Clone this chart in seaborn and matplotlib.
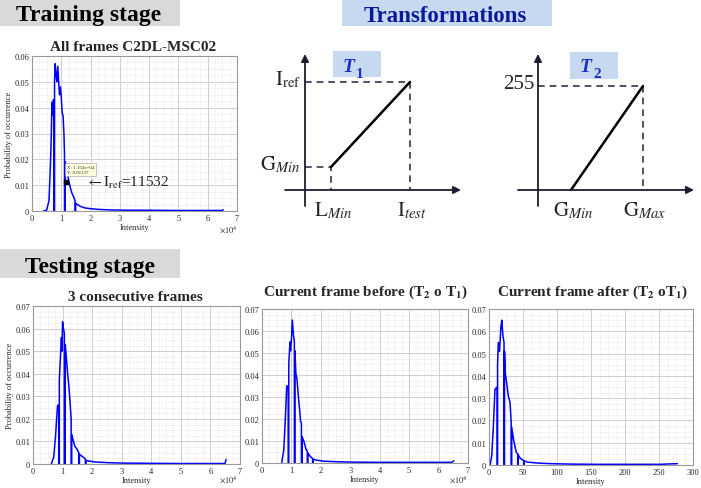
import matplotlib.pyplot as plt
import seaborn as sns
from matplotlib.patches import Rectangle
from matplotlib.ticker import MultipleLocator, FuncFormatter

# Histogramme lest av bildet (intensitet i enheter av 1e4, sannsynlighet)
train_intensity = [0.40, 0.50, 0.58, 0.63, 0.66, 0.68, 0.70, 0.72, 0.75, 0.75, 0.77, 0.77, 0.79,
                   0.82, 0.85, 0.88, 0.91, 0.94, 0.97, 1.00, 1.03, 1.06, 1.09, 1.11, 1.11, 1.13, 1.13,
                   1.16, 1.20, 1.25, 1.31, 1.36, 1.42, 1.47, 1.47, 1.49, 1.49, 1.55, 1.65, 1.80, 2.00,
                   2.30, 2.70, 3.20, 4.00, 5.00, 6.00, 6.50, 6.53]
train_prob = [0.0, 0.0003, 0.004, 0.018, 0.030, 0.042, 0.037, 0.043, 0.043, 0.0, 0.0, 0.050, 0.057,
              0.053, 0.050, 0.056, 0.050, 0.045, 0.048, 0.044, 0.038, 0.037, 0.030, 0.022, 0.0, 0.0, 0.019,
              0.018, 0.015, 0.012, 0.009, 0.007, 0.0055, 0.004, 0.0, 0.0, 0.003, 0.0025, 0.0018, 0.0012, 0.0009,
              0.0006, 0.0004, 0.0003, 0.0003, 0.0002, 0.0002, 0.0002, 0.0005]

test_intensity = [0.62, 0.70, 0.76, 0.80, 0.83, 0.87, 0.87, 0.89, 0.89, 0.93, 0.96, 0.98, 1.00, 1.03,
                  1.06, 1.06, 1.09, 1.09, 1.13, 1.17, 1.21, 1.25, 1.29, 1.29, 1.31, 1.31, 1.35, 1.41, 1.49,
                  1.55, 1.55, 1.57, 1.57, 1.65, 1.75, 1.77, 1.77, 1.79, 1.79, 1.90, 2.10, 2.50, 3.00, 4.00,
                  5.00, 6.00, 6.49, 6.53]
test_prob = [0.0, 0.003, 0.012, 0.020, 0.026, 0.026, 0.0, 0.0, 0.037, 0.048, 0.056, 0.050, 0.063, 0.060,
             0.058, 0.0, 0.0, 0.053, 0.047, 0.040, 0.035, 0.028, 0.020, 0.0, 0.0, 0.013, 0.011, 0.008,
             0.0065, 0.005, 0.0, 0.0, 0.0043, 0.0035, 0.0025, 0.0022, 0.0, 0.0, 0.0016, 0.0013, 0.0009,
             0.0006, 0.0004, 0.0003, 0.0002, 0.0002, 0.0002, 0.0020]

before_intensity = [0.67, 0.74, 0.80, 0.84, 0.89, 0.89, 0.91, 0.91, 0.95, 0.97, 1.00, 1.03, 1.07, 1.10,
                    1.10, 1.12, 1.12, 1.15, 1.19, 1.23, 1.28, 1.31, 1.34, 1.34, 1.36, 1.36, 1.42, 1.50,
                    1.54, 1.54, 1.56, 1.56, 1.64, 1.72, 1.72, 1.74, 1.74, 1.85, 2.10, 2.50, 3.00, 4.00,
                    5.00, 6.00, 6.45, 6.52]
before_prob = [0.0, 0.006, 0.022, 0.035, 0.035, 0.0, 0.0, 0.045, 0.055, 0.051, 0.056, 0.065, 0.058, 0.055,
               0.0, 0.0, 0.051, 0.041, 0.038, 0.031, 0.024, 0.019, 0.018, 0.0, 0.0, 0.012, 0.010, 0.006,
               0.0055, 0.0, 0.0, 0.0045, 0.003, 0.002, 0.0, 0.0, 0.0017, 0.0013, 0.0008, 0.0006, 0.0004,
               0.0003, 0.0003, 0.0003, 0.0003, 0.0010]

after_intensity = [1.5, 4.0, 6.5, 8.8, 12.0, 12.0, 12.6, 12.6, 13.7, 15.5, 17.5, 18.8, 20.5, 22.1, 22.1,
                   22.8, 22.8, 24.0, 25.5, 28.4, 31.0, 32.6, 32.6, 33.4, 33.4, 36.3, 40.2, 42.2, 42.2,
                   42.9, 42.9, 46.0, 51.0, 51.0, 51.8, 51.8, 57.0, 70.0, 90.0, 120.0, 160.0, 200.0, 250.0,
                   277.0]
after_prob = [0.0, 0.004, 0.018, 0.034, 0.035, 0.0, 0.0, 0.045, 0.055, 0.051, 0.062, 0.065, 0.058, 0.055,
              0.0, 0.0, 0.051, 0.041, 0.038, 0.031, 0.028, 0.019, 0.0, 0.0, 0.017, 0.011, 0.0056, 0.005,
              0.0, 0.0, 0.0046, 0.003, 0.002, 0.0, 0.0, 0.0018, 0.0013, 0.0009, 0.0006, 0.0004, 0.0003,
              0.0003, 0.0003, 0.0006]

iref_tip = (1.153, 0.01137)
iref_text = "X: 1.153e+04\nY: 0.01137"

# Skisser av transformasjonene (skjematiske enheter, origo i aksekrysset)
t1_in = [26, 105]     # L_Min, I_test
t1_out = [23, 108]    # G_Min, I_ref
t2_in = [33, 105]     # G_Min, G_Max
t2_out = [0, 104]     # 0, 255
axis_x = [-20, 156]
axis_y = [-16, 136]

W, H = 701, 489
BLUE = "#0000ff"


def rect(x0, y0, x1, y1):  # piksler (fra toppen) -> figurbrok
    return [x0 / W, 1 - y1 / H, (x1 - x0) / W, (y1 - y0) / H]


def header(box, text, face, color, cx, base, size):
    fig.add_artist(Rectangle((box[0] / W, 1 - box[3] / H), (box[2] - box[0]) / W, (box[3] - box[1]) / H,
                             transform=fig.transFigure, facecolor=face, edgecolor="none"))
    fig.text(cx / W, 1 - base / H, text, ha="center", va="baseline", fontsize=size,
             fontweight="bold", color=color)


def hist_panel(box, xs, ys, xmax, xstep, ymax, ylabel, sci_pos):
    ax = fig.add_axes(rect(*box))
    sns.lineplot(x=xs, y=ys, sort=False, estimator=None, color=BLUE, linewidth=1.1, ax=ax)
    ax.set_xlim(0, xmax)
    ax.set_ylim(0, ymax)
    ax.xaxis.set_major_locator(MultipleLocator(xstep))
    ax.xaxis.set_minor_locator(MultipleLocator(xstep / 4))
    ax.yaxis.set_major_locator(MultipleLocator(0.01))
    ax.yaxis.set_minor_locator(MultipleLocator(0.0025))
    ax.yaxis.set_major_formatter(FuncFormatter(lambda v, p: f"{v:g}"))
    ax.xaxis.set_major_formatter(FuncFormatter(lambda v, p: f"{v:g}"))
    ax.grid(True, which="major", color="#cfcfcf", linewidth=0.7)
    ax.grid(True, which="minor", color="#d6d6d6", linewidth=0.5, linestyle=":")
    ax.tick_params(which="both", direction="in", length=2, labelsize=6, pad=2, color="#888888")
    ax.tick_params(which="minor", length=0)
    for s in ax.spines.values():
        s.set_color("#999999")
        s.set_linewidth(0.8)
    ax.set_xlabel("Intensity", fontsize=6, labelpad=1)
    ax.set_ylabel("Probability of occurrence" if ylabel else "", fontsize=6, labelpad=1)
    if sci_pos is not None:
        fig.text(sci_pos[0] / W, 1 - sci_pos[1] / H, r"$\times10^4$", ha="right", va="center", fontsize=6)
    return ax


def sketch(box, xin, xout, labels_x, labels_y, tag, tag_box):
    ax = fig.add_axes(rect(*box))
    ax.set_xlim(-25, 165)
    ax.set_ylim(-37, 143)
    ax.axis("off")
    arrow = dict(arrowstyle="-|>", color="#1c1c30", lw=1.3, mutation_scale=11, shrinkA=0, shrinkB=0)
    ax.annotate("", xy=(axis_x[1], 0), xytext=(axis_x[0], 0), arrowprops=arrow)
    ax.annotate("", xy=(0, axis_y[1]), xytext=(0, axis_y[0]), arrowprops=arrow)
    dash = dict(color="#33334a", lw=1.2, linestyle=(0, (4, 3)))
    ax.plot([0, xin[1], xin[1]], [xout[1], xout[1], 0], **dash)
    if xout[0] > 0:
        ax.plot([0, xin[0], xin[0]], [xout[0], xout[0], 0], **dash)
    sns.lineplot(x=xin, y=xout, color="black", linewidth=1.8, ax=ax)
    for lx, txt in zip(xin, labels_x):
        ax.text(lx + 2, -25, txt, ha="center", va="baseline", fontsize=15)
    for ly, txt in zip(xout, labels_y):
        if txt:
            ax.text(-4, ly - 2, txt, ha="right", va="baseline", fontsize=15)
    ax.add_patch(Rectangle((tag_box[0], tag_box[1]), tag_box[2], tag_box[3], facecolor="#c6d9f1",
                           edgecolor="none", clip_on=False))
    ax.text(tag_box[0] + 16, 119, "T", ha="center", va="baseline", fontsize=14, fontweight="bold",
            fontstyle="italic", color="#1a2fc8")
    ax.text(tag_box[0] + 23, 113, tag, ha="left", va="baseline", fontsize=11, fontweight="bold",
            color="#1a2fc8")


sns.set_style("white")
plt.rcParams["font.family"] = ["Liberation Serif", "DejaVu Serif"]
plt.rcParams["mathtext.fontset"] = "stix"

fig = plt.figure(figsize=(7.01, 4.89), dpi=100)

header((0, 0, 180, 27), "Training stage", "#d9d9d9", "black", 89, 21, 17)
header((342, 0, 552, 27), "Transformations", "#c6d9f1", "#0a1a9a", 445, 21.5, 16.5)
header((0, 250, 180, 279), "Testing stage", "#d9d9d9", "black", 90, 273, 17)

# Treningshistogram
ax0 = hist_panel((32, 57, 237, 212), train_intensity, train_prob, 7, 1, 0.06, True, (238, 230))
ax0.plot(*iref_tip, marker="s", color="black", markersize=3)
ax0.text(1.2, 0.0178, iref_text, ha="left", va="top", fontsize=3.5,
         bbox=dict(boxstyle="square,pad=0.4", facecolor="#ffffe0", edgecolor="#999999", linewidth=0.4))
ax0.text(1.82, 0.0111, r"$\leftarrow\mathrm{I}_{\mathrm{ref}}$=11532", ha="left", va="center", fontsize=11)
fig.text(133 / W, 1 - 51 / H, "All frames C2DL-MSC02", ha="center", va="baseline",
         fontsize=11, fontweight="bold")

# Transformasjonene
sketch((280, 48, 470, 228), t1_in, t1_out, [r"$\mathrm{L}_{Min}$", r"$\mathrm{I}_{test}$"],
       [r"$\mathrm{G}_{Min}$", r"$\mathrm{I}_{\mathrm{ref}}$"], "1", (28, 113, 48, 26))
sketch((513, 48, 703, 228), t2_in, t2_out, [r"$\mathrm{G}_{Min}$", r"$\mathrm{G}_{Max}$"],
       ["", "255"], "2", (32, 111, 48, 27))

# Testhistogrammer
hist_panel((33, 307, 240, 465), test_intensity, test_prob, 7, 1, 0.07, True, (238, 480))
hist_panel((262, 310, 468, 464), before_intensity, before_prob, 7, 1, 0.07, False, (468, 480))
hist_panel((489, 310, 693, 466), after_intensity, after_prob, 300, 50, 0.07, False, None)

fig.text(135 / W, 1 - 301 / H, "3 consecutive frames", ha="center", va="baseline",
         fontsize=11, fontweight="bold")
fig.text(365 / W, 1 - 296 / H, r"Current frame before (T$_\mathbf{2}$ o T$_\mathbf{1}$)", ha="center",
         va="baseline", fontsize=11, fontweight="bold")
fig.text(592 / W, 1 - 296 / H, r"Current frame after (T$_\mathbf{2}$ oT$_\mathbf{1}$)", ha="center",
         va="baseline", fontsize=11, fontweight="bold")

fig.savefig("out.png", dpi=100)
